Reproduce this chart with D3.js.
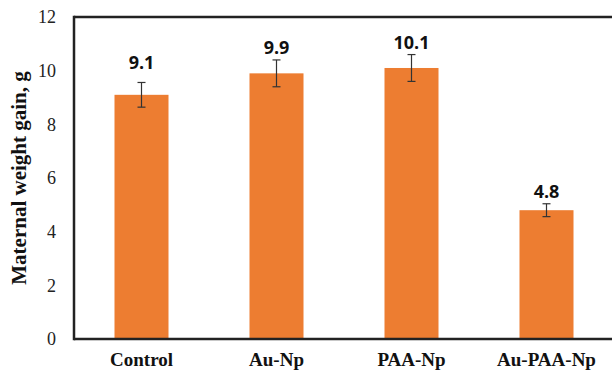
<!DOCTYPE html>
<html>
<head>
<meta charset="utf-8">
<script src="https://cdn.jsdelivr.net/npm/d3@7"></script>
<style>
  html, body { margin: 0; padding: 0; background: #fff; }
  svg { display: block; }
</style>
</head>
<body>
<svg id="chart" width="612" height="372"></svg>
<script>
const categories = ["Control", "Au-Np", "PAA-Np", "Au-PAA-Np"];
const values = [9.1, 9.9, 10.1, 4.8];
const errors = [0.46, 0.5, 0.5, 0.24];
const valueLabels = ["9.1", "9.9", "10.1", "4.8"];
const yTicks = [0, 2, 4, 6, 8, 10, 12];
const yTitle = "Maternal weight gain, g";

const svg = d3.select("#chart");
const W = 612, H = 372;
const m = { left: 74, right: -2, top: 17, bottom: 33 };

const x = d3.scaleBand()
  .domain(categories)
  .range([m.left, W - m.right])
  .paddingInner(0.6)
  .paddingOuter(0.3);

const y = d3.scaleLinear()
  .domain([0, 12])
  .range([H - m.bottom, m.top]);

// bars
svg.append("g").selectAll("rect")
  .data(categories)
  .join("rect")
  .attr("x", d => x(d))
  .attr("width", x.bandwidth())
  .attr("y", (d, i) => y(values[i]))
  .attr("height", (d, i) => y(0) - y(values[i]))
  .attr("fill", "#ED7D31");

// error bars
const eg = svg.append("g").attr("stroke", "#333").attr("stroke-width", 1.2);
categories.forEach((c, i) => {
  const cx = x(c) + x.bandwidth() / 2;
  const t = y(values[i] + errors[i]), b = y(values[i] - errors[i]);
  eg.append("line").attr("x1", cx).attr("x2", cx).attr("y1", t).attr("y2", b);
  eg.append("line").attr("x1", cx - 4).attr("x2", cx + 4).attr("y1", t).attr("y2", t);
  eg.append("line").attr("x1", cx - 4).attr("x2", cx + 4).attr("y1", b).attr("y2", b);
});

// value labels
svg.append("g").selectAll("text")
  .data(categories)
  .join("text")
  .attr("x", d => x(d) + x.bandwidth() / 2)
  .attr("y", (d, i) => y(values[i] + errors[i]) - (i === 0 ? 13 : 6))
  .attr("text-anchor", "middle")
  .attr("font-family", "'Open Sans', sans-serif")
  .attr("font-weight", "bold")
  .attr("font-size", 18)
  .attr("fill", "#111")
  .text((d, i) => valueLabels[i]);

// y axis tick labels
const yAxis = d3.axisLeft(y).tickValues(yTicks).tickSize(0).tickPadding(18).tickFormat(d3.format("d"));
const ya = svg.append("g").attr("transform", `translate(${m.left},0)`).call(yAxis);
ya.select(".domain").remove();
ya.selectAll("text")
  .attr("font-family", "'Liberation Serif', 'Times New Roman', serif")
  .attr("font-size", 18)
  .attr("fill", "#222");

// x axis labels
const xAxis = d3.axisBottom(x).tickSize(0).tickPadding(14);
const xa = svg.append("g").attr("transform", `translate(0,${y(0)})`).call(xAxis);
xa.select(".domain").remove();
xa.selectAll("text")
  .attr("font-family", "'Liberation Serif', 'Times New Roman', serif")
  .attr("font-weight", "bold")
  .attr("font-size", 19)
  .attr("fill", "#111");

// frame lines (left, top, bottom)
const fg = svg.append("g").attr("stroke", "#222").attr("stroke-width", 2.5).attr("fill", "none");
fg.append("line").attr("x1", m.left).attr("x2", W).attr("y1", y(0)).attr("y2", y(0));
fg.append("line").attr("x1", m.left).attr("x2", W).attr("y1", y(12)).attr("y2", y(12));
fg.append("line").attr("x1", m.left).attr("x2", m.left).attr("y1", y(12) - 1.25).attr("y2", y(0) + 1.25);

// y title
svg.append("text")
  .attr("transform", `translate(26,${(y(0) + y(12)) / 2}) rotate(-90)`)
  .attr("text-anchor", "middle")
  .attr("font-family", "'Liberation Serif', 'Times New Roman', serif")
  .attr("font-weight", "bold")
  .attr("font-size", 21)
  .attr("fill", "#111")
  .text(yTitle);
</script>
</body>
</html>
